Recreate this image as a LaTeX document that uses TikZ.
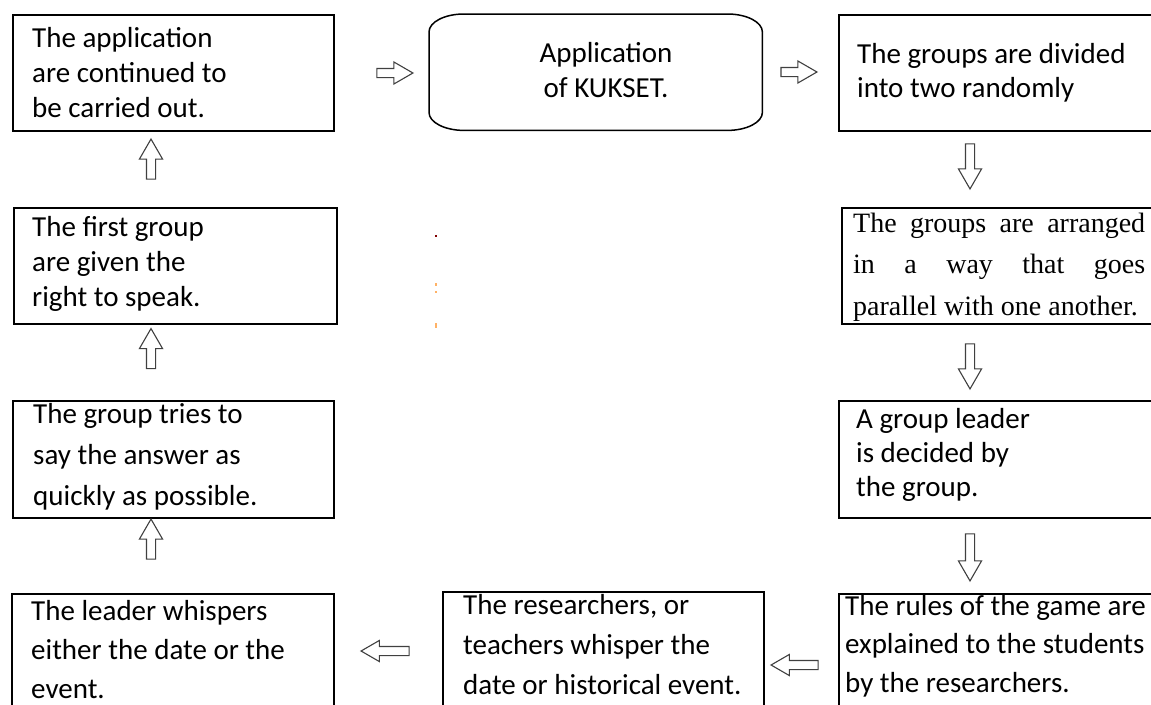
\documentclass[tikz,border=0pt]{standalone}
\usepackage{fontspec}
\setmainfont{Carlito}
\newfontfamily\tnr{Liberation Serif}
\usetikzlibrary{shapes.arrows}
\begin{document}
\begin{tikzpicture}[x=1pt,y=-1pt,
  box/.style={draw=black, line width=1.5pt, inner sep=0, anchor=north west},
  txt/.style={anchor=base west, inner sep=0, text width=320pt, align=flush left,
    font={\fontsize{29}{#1}\selectfont}},
  blk/.style={single arrow, draw=black!75, line width=1.1pt, fill=white, inner sep=4pt,
    single arrow tip angle=60, single arrow head extend=6pt, anchor=center},
  ]
\fill[white] (0,0) rectangle (1151,704);
\clip (0,0) rectangle (1151,704);
\useasboundingbox (0,0) rectangle (1151,704);

% left column
\node[box, minimum width=321pt, minimum height=116pt] (L1) at (12,14) {};
\node[txt=35pt] (L1t) at (32,47) {The application\\are continued to\\be carried out.};
\node[box, minimum width=323pt, minimum height=116pt] (L2) at (13,207) {};
\node[txt=35pt] (L2t) at (32,236) {The first group\\are given the\\right to speak.};
\node[box, minimum width=321pt, minimum height=117pt] (L3) at (12,400) {};
\node[txt=41pt] (L3t) at (33,423) {The group tries to\\say the answer as\\quickly as possible.};
\node[box, minimum width=322pt, minimum height=130pt] (B1) at (11,593) {};
\node[txt=39pt] (B1t) at (31,620) {The leader whispers\\either the date or the\\event.};

% centre
\node[inner sep=0, minimum width=333pt, minimum height=116pt, anchor=north west] (C) at (429,14) {};
\draw[line width=1.5pt] ([xshift=35pt]C.north west) -- ([xshift=-35pt]C.north east)
  arc[start angle=90, end angle=0, x radius=35pt, y radius=18pt]
  -- ([yshift=18pt]C.south east)
  arc[start angle=0, end angle=-90, x radius=35pt, y radius=18pt]
  -- ([xshift=35pt]C.south west)
  arc[start angle=-90, end angle=-180, x radius=35pt, y radius=18pt]
  -- ([yshift=-18pt]C.north west)
  arc[start angle=180, end angle=90, x radius=35pt, y radius=18pt];
\node[anchor=base, inner sep=0, text width=240pt, align=flush center, font={\fontsize{29}{35}\selectfont}] (Ct) at (606,62) {Application\\of KUKSET.};

% right column
\node[box, minimum width=330pt, minimum height=116pt] (R1) at (838,14) {};
\node[txt=34pt] (R1t) at (857,63) {The groups are divided\\into two randomly};
\node[box, minimum width=330pt, minimum height=116pt] (R2) at (841,207) {};
\node[anchor=base west, inner sep=0, text width=300pt, align=flush left, font={\tnr\fontsize{28}{41.5}\selectfont}] (R2t) at (853,232)
  {\leavevmode\hbox to 292pt{The\hfill groups\hfill are\hfill arranged}\\\leavevmode\hbox to 292pt{in\hfill a\hfill way\hfill that\hfill goes}\\parallel with one another.};
\node[box, minimum width=330pt, minimum height=117pt] (R3) at (838,400) {};
\node[txt=34pt] (R3t) at (856,428) {A group leader\\is decided by\\the group.};
\node[box, minimum width=330pt, minimum height=130pt] (R4) at (838,593) {};
\node[txt=38.5pt] (R4t) at (845,615) {The rules of the game are\\explained to the students\\by the researchers.};

% bottom middle
\node[box, minimum width=321pt, minimum height=130pt] (B2) at (442,591) {};
\node[txt=40pt] (B2t) at (463,614) {The researchers, or\\teachers whisper the\\date or historical event.};

% block arrows
\node[blk, minimum height=36pt, single arrow head extend=6.5pt] (a1) at (391,73) {};
\node[blk, minimum height=36pt, single arrow head extend=6.5pt] (a2) at (795,72) {};
\node[blk, minimum height=45pt, shape border rotate=270, single arrow head extend=7pt] (a3) at (970,162.5) {};
\node[blk, minimum height=45pt, shape border rotate=270, single arrow head extend=7pt] (a4) at (970,362.5) {};
\node[blk, minimum height=47pt, shape border rotate=270, single arrow head extend=7pt] (a5) at (970,553.5) {};
\node[blk, minimum height=47pt, shape border rotate=180] (a6) at (798.5,665) {};
\node[blk, minimum height=48pt, shape border rotate=180] (a7) at (389,651) {};
\node[blk, minimum height=40pt, shape border rotate=90, single arrow head extend=7pt] (a8) at (151,543) {};
\node[blk, minimum height=40pt, shape border rotate=90, single arrow head extend=7pt] (a9) at (151,352.5) {};
\node[blk, minimum height=40pt, shape border rotate=90, single arrow head extend=7pt] (a10) at (151,163) {};

% stray specks
\fill[red!50!black] (435,235) rectangle (437,237);
\fill[orange!60] (435,283) rectangle (436.5,286);
\fill[orange!60] (435,291) rectangle (437,293);
\fill[orange!60] (435,323) rectangle (436.5,328);
\end{tikzpicture}
\end{document}
